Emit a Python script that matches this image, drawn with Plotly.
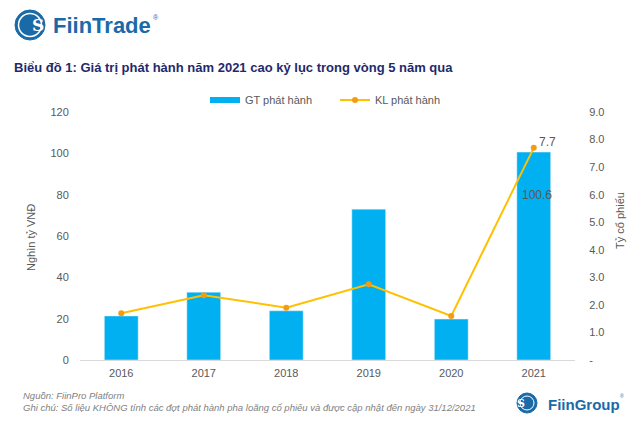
import plotly.graph_objects as go

years = ["2016", "2017", "2018", "2019", "2020", "2021"]
gt_values = [21.3, 32.8, 23.8, 73.0, 19.8, 100.6]
kl_values = [1.7, 2.35, 1.9, 2.75, 1.6, 7.7]
left_ticks = [0, 20, 40, 60, 80, 100, 120]
right_ticks = [0, 1, 2, 3, 4, 5, 6, 7, 8, 9]
right_ticktext = ["-", "1.0", "2.0", "3.0", "4.0", "5.0", "6.0", "7.0", "8.0", "9.0"]

FONT = "Liberation Sans, Arial, sans-serif"
GRAY = "#595959"
BLUE = "#00b0f0"
LOGO = "#1a6aa8"

fig = go.Figure()
fig.add_trace(go.Bar(x=years, y=gt_values, name="GT phát hành", marker_color=BLUE,
                     width=0.41, yaxis="y", showlegend=False, legendgroup="gt"))
# legend entry for the bars (drawn as a thick bar-coloured stroke)
fig.add_trace(go.Scatter(x=[years[0]], y=[None], name="GT phát hành", mode="lines",
                         line=dict(color=BLUE, width=6), legendgroup="gt", yaxis="y"))
fig.add_trace(go.Scatter(x=years, y=kl_values, name="KL phát hành", mode="lines+markers",
                         line=dict(color="#ffc000", width=2),
                         marker=dict(color="#f39c12", size=6), yaxis="y2"))

fig.update_layout(
    width=640, height=423,
    margin=dict(l=80, r=65, t=112, b=63),
    paper_bgcolor="white", plot_bgcolor="white",
    font=dict(family=FONT, color=GRAY, size=11),
    showlegend=True,
    legend=dict(orientation="h", x=0.2525, xanchor="left", y=1.048, yanchor="middle",
                font=dict(size=11, color=GRAY), traceorder="normal",
                itemwidth=30, entrywidth=85),
    xaxis=dict(type="category", range=[-0.5, len(years) - 0.5],
               showgrid=False, showline=True, linecolor="#d9d9d9", linewidth=1,
               ticks="outside", ticklen=3, tickcolor="rgba(0,0,0,0)",
               tickfont=dict(size=11, color=GRAY)),
    yaxis=dict(range=[0, 120], tickvals=left_ticks, showgrid=False, zeroline=False,
               showline=False, tickfont=dict(size=11, color=GRAY),
               ticks="outside", ticklen=8, tickcolor="rgba(0,0,0,0)"),
    yaxis2=dict(range=[0, 9], tickvals=right_ticks, ticktext=right_ticktext, overlaying="y",
                side="right", showgrid=False, zeroline=False, showline=False,
                tickfont=dict(size=11, color=GRAY),
                ticks="outside", ticklen=11, tickcolor="rgba(0,0,0,0)"),
)

def px_x(p):
    return (p - 80) / 495.0

def px_y(q):
    return (360 - q) / 248.0

# axis titles
fig.add_annotation(xref="paper", yref="paper", x=px_x(23), y=px_y(238), text="Nghìn tỷ VNĐ",
                   textangle=-90, showarrow=False, font=dict(size=11, color=GRAY))
fig.add_annotation(xref="paper", yref="paper", x=px_x(628), y=px_y(221), text="Tỷ cổ phiếu",
                   textangle=-90, showarrow=False, font=dict(size=11, color=GRAY))

# data labels (category index of the last year)
last = len(years) - 1
fig.add_annotation(xref="x", yref="y", x=last, y=gt_values[-1], text=f"{gt_values[-1]:.1f}",
                   showarrow=False, xshift=3, yshift=-43, font=dict(size=12, color=GRAY))
fig.add_annotation(xref="x", yref="y2", x=last, y=kl_values[-1], text=f"{kl_values[-1]:.1f}",
                   showarrow=False, xshift=14, yshift=6, font=dict(size=12, color=GRAY))

# title
fig.add_annotation(xref="paper", yref="paper", x=px_x(12), y=px_y(68), xanchor="left",
                   yanchor="middle",
                   text="<b>Biểu đồ 1: Giá trị phát hành năm 2021 cao kỷ lục trong vòng 5 năm qua</b>",
                   showarrow=False, font=dict(size=13, color="#1f2a6b", family=FONT))

# FiinTrade logo
fig.add_shape(type="circle", xref="paper", yref="paper",
              x0=px_x(15), x1=px_x(45), y0=px_y(40), y1=px_y(10),
              fillcolor=LOGO, line=dict(color=LOGO, width=1))
fig.add_shape(type="circle", xref="paper", yref="paper",
              x0=px_x(18.5), x1=px_x(41.5), y0=px_y(36.5), y1=px_y(13.5),
              fillcolor="rgba(0,0,0,0)", line=dict(color="white", width=1.5))
fig.add_annotation(xref="paper", yref="paper", x=px_x(30), y=px_y(25), text="<b>S</b>",
                   showarrow=False, yanchor="middle",
                   font=dict(size=17, color="white", family="DejaVu Serif"))
fig.add_annotation(xref="paper", yref="paper", x=px_x(51), y=px_y(25), xanchor="left",
                   yanchor="middle", text="<b>FiinTrade</b>", showarrow=False,
                   font=dict(size=22, color=LOGO, family=FONT))
fig.add_annotation(xref="paper", yref="paper", x=px_x(151), y=px_y(17), xanchor="left",
                   yanchor="middle", text="®", showarrow=False,
                   font=dict(size=7, color=LOGO, family=FONT))

# footer
fig.add_annotation(xref="paper", yref="paper", x=px_x(21), y=px_y(395), xanchor="left",
                   yanchor="middle", align="left", showarrow=False,
                   text="<i>Nguồn: FiinPro Platform</i>", font=dict(size=9.5, color="#7f7f7f"))
fig.add_annotation(xref="paper", yref="paper", x=px_x(21), y=px_y(407), xanchor="left",
                   yanchor="middle", align="left", showarrow=False,
                   text="<i>Ghi chú: Số liệu KHÔNG tính các đợt phát hành pha loãng cổ phiếu và được cập nhật đến ngày 31/12/2021</i>",
                   font=dict(size=9.5, color="#7f7f7f"))

# FiinGroup logo
fig.add_shape(type="circle", xref="paper", yref="paper",
              x0=px_x(517), x1=px_x(537), y0=px_y(413), y1=px_y(393),
              fillcolor=LOGO, line=dict(color=LOGO, width=1))
fig.add_shape(type="circle", xref="paper", yref="paper",
              x0=px_x(520), x1=px_x(534), y0=px_y(410), y1=px_y(396),
              fillcolor="rgba(0,0,0,0)", line=dict(color="white", width=1))
fig.add_annotation(xref="paper", yref="paper", x=px_x(527), y=px_y(403), text="<b>S</b>",
                   showarrow=False, yanchor="middle",
                   font=dict(size=11, color="white", family="DejaVu Serif"))
fig.add_annotation(xref="paper", yref="paper", x=px_x(546), y=px_y(404), xanchor="left",
                   yanchor="middle", text="<b>FiinGroup</b>", showarrow=False,
                   font=dict(size=15, color=LOGO, family=FONT))
fig.add_annotation(xref="paper", yref="paper", x=px_x(618), y=px_y(396), xanchor="left",
                   yanchor="middle", text="®", showarrow=False,
                   font=dict(size=5, color=LOGO, family=FONT))

fig.write_html("out.html")
